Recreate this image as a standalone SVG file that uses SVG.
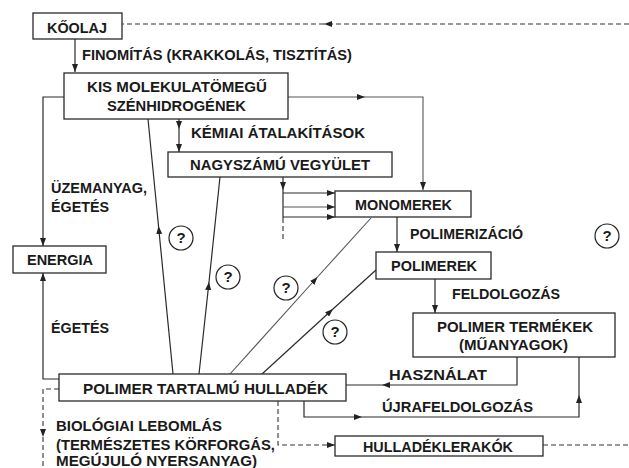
<svg xmlns="http://www.w3.org/2000/svg" width="629" height="468" viewBox="0 0 629 468">
<style>
  .box { fill: #fff; stroke: #2a2a2a; stroke-width: 1.3; }
  .t { font-family: "Liberation Sans", Arial, sans-serif; font-weight: bold; font-size: 15px; fill: #1a1a1a; }
  .c { fill: none; stroke: #2a2a2a; stroke-width: 1.2; }
  .g { fill: none; stroke: #555; stroke-width: 1.1; }
  .d { fill: none; stroke: #333; stroke-width: 1.1; stroke-dasharray: 5 3; }
  .a { marker-end: url(#ah); }
  .q { fill: #fff; stroke: #222; stroke-width: 1.2; }
</style>
<defs>
  <marker id="ah" viewBox="0 0 8 6" refX="8" refY="3" markerWidth="8" markerHeight="6" orient="auto" markerUnits="userSpaceOnUse">
    <path d="M0,0 L8,3 L0,6 z" fill="#222"/>
  </marker>
</defs>
<rect width="629" height="468" fill="#fff"/>

<g id="connectors">
  <path class="c a" d="M75 39 L75 72"/>
  <path class="d a" d="M629 24 L324 24"/>
  <path class="d" d="M324 24 L122 24"/>
  <path class="g a" d="M288 97 L365 97"/>
  <path class="g a" d="M365 97 L423 97 L423 190"/>
  <path class="c a" d="M64 97 L43 97 L43 246"/>
  <path class="c a" d="M179 119 L179 129"/>
  <path class="c a" d="M179 129 L179 152"/>
  <path class="c a" d="M283 177 L283 190"/>
  <path class="c" d="M283 190 L283 218"/>
  <path class="d" d="M283 218 L283 241"/>
  <path class="c a" d="M283 193 L335 193"/>
  <path class="g a" d="M283 207 L335 207"/>
  <path class="c a" d="M283 217 L335 217"/>
  <path class="c a" d="M59 379 L43 379 L43 273"/>
  <path class="d a" d="M59 389 L43 389 L43 437"/>
  <path class="d" d="M43 437 L43 468"/>
  <path class="d a" d="M278 401 L278 445 L335 445"/>
  <path class="d" d="M543 445 L629 445"/>
  <path class="c a" d="M304 401 L304 417 L362 417"/>
  <path class="c a" d="M362 417 L579 417 L579 395"/>
  <path class="c" d="M579 395 L579 357"/>
  <path class="c a" d="M517 357 L517 385 L382 385"/>
  <path class="c" d="M382 385 L346 385"/>
  <path class="c a" d="M397 217 L397 252"/>
  <path class="c a" d="M435 279 L435 313"/>
  <path class="c a" d="M173 374 L158.5 226"/>
  <path class="c" d="M158.5 226 L148 119"/>
  <path class="c a" d="M199 374 L209 282"/>
  <path class="c" d="M209 282 L220 177"/>
  <path class="g a" d="M230 374 L317.5 277"/>
  <path class="g" d="M317.5 277 L371 218"/>
  <path class="c a" d="M262 374 L333 309"/>
  <path class="c" d="M333 309 L376 270"/>
</g>

<g id="koolaj">
  <rect class="box" x="33" y="13" width="89" height="26"/>
  <text class="t" x="47" y="33" textLength="60" lengthAdjust="spacingAndGlyphs">KŐOLAJ</text>
</g>
<text class="t" x="82" y="60" textLength="270" lengthAdjust="spacingAndGlyphs">FINOMÍTÁS (KRAKKOLÁS, TISZTÍTÁS)</text>

<g id="kis">
  <rect class="box" x="64" y="73" width="224" height="46"/>
  <text class="t" x="87" y="92" textLength="180" lengthAdjust="spacingAndGlyphs">KIS  MOLEKULATÖMEGŰ</text>
  <text class="t" x="107" y="111" textLength="139" lengthAdjust="spacingAndGlyphs">SZÉNHIDROGÉNEK</text>
</g>
<text class="t" x="191" y="138" textLength="174" lengthAdjust="spacingAndGlyphs">KÉMIAI  ÁTALAKÍTÁSOK</text>

<g id="nagyszamu">
  <rect class="box" x="168" y="152" width="224" height="25"/>
  <text class="t" x="190" y="170" textLength="180" lengthAdjust="spacingAndGlyphs">NAGYSZÁMÚ  VEGYÜLET</text>
</g>

<text class="t" x="51" y="193" textLength="96" lengthAdjust="spacingAndGlyphs">ÜZEMANYAG,</text>
<text class="t" x="51" y="212" textLength="58" lengthAdjust="spacingAndGlyphs">ÉGETÉS</text>

<g id="energia">
  <rect class="box" x="13" y="246" width="93" height="27"/>
  <text class="t" x="27" y="265" textLength="66" lengthAdjust="spacingAndGlyphs">ENERGIA</text>
</g>
<text class="t" x="51" y="333" textLength="58" lengthAdjust="spacingAndGlyphs">ÉGETÉS</text>

<g id="monomerek">
  <rect class="box" x="335" y="191" width="136" height="26"/>
  <text class="t" x="355" y="210" textLength="97" lengthAdjust="spacingAndGlyphs">MONOMEREK</text>
</g>
<text class="t" x="410" y="239" textLength="113" lengthAdjust="spacingAndGlyphs">POLIMERIZÁCIÓ</text>

<g id="polimerek">
  <rect class="box" x="376" y="252" width="115" height="27"/>
  <text class="t" x="391" y="271" textLength="86" lengthAdjust="spacingAndGlyphs">POLIMEREK</text>
</g>
<text class="t" x="452" y="299" textLength="108" lengthAdjust="spacingAndGlyphs">FELDOLGOZÁS</text>

<g id="termekek">
  <rect class="box" x="413" y="313" width="202" height="44"/>
  <text class="t" x="437" y="332" textLength="156" lengthAdjust="spacingAndGlyphs">POLIMER  TERMÉKEK</text>
  <text class="t" x="459" y="350" textLength="109" lengthAdjust="spacingAndGlyphs">(MŰANYAGOK)</text>
</g>

<text class="t" x="389" y="380" textLength="98" lengthAdjust="spacingAndGlyphs">HASZNÁLAT</text>
<text class="t" x="382" y="412" textLength="151" lengthAdjust="spacingAndGlyphs">ÚJRAFELDOLGOZÁS</text>

<g id="hulladek">
  <rect class="box" x="59" y="374" width="287" height="27"/>
  <text class="t" x="83" y="394" textLength="245" lengthAdjust="spacingAndGlyphs">POLIMER TARTALMÚ  HULLADÉK</text>
</g>

<g id="lerakok">
  <rect class="box" x="335" y="436" width="208" height="20"/>
  <text class="t" x="363" y="452" textLength="150" lengthAdjust="spacingAndGlyphs">HULLADÉKLERAKÓK</text>
</g>

<text class="t" x="56" y="431" textLength="166" lengthAdjust="spacingAndGlyphs">BIOLÓGIAI  LEBOMLÁS</text>
<text class="t" x="56" y="450" textLength="219" lengthAdjust="spacingAndGlyphs">(TERMÉSZETES  KÖRFORGÁS,</text>
<text class="t" x="56" y="466" textLength="201" lengthAdjust="spacingAndGlyphs">MEGÚJULÓ  NYERSANYAG)</text>

<g id="q1"><circle class="q" cx="181" cy="238" r="12"/><text class="t" x="181" y="243" text-anchor="middle">?</text></g>
<g id="q2"><circle class="q" cx="228" cy="277" r="12"/><text class="t" x="228" y="282" text-anchor="middle">?</text></g>
<g id="q3"><circle class="q" cx="286" cy="288" r="12"/><text class="t" x="286" y="293" text-anchor="middle">?</text></g>
<g id="q4"><circle class="q" cx="335" cy="332" r="12"/><text class="t" x="335" y="337" text-anchor="middle">?</text></g>
<g id="q5"><circle class="q" cx="607" cy="236" r="12"/><text class="t" x="607" y="241" text-anchor="middle">?</text></g>
</svg>
